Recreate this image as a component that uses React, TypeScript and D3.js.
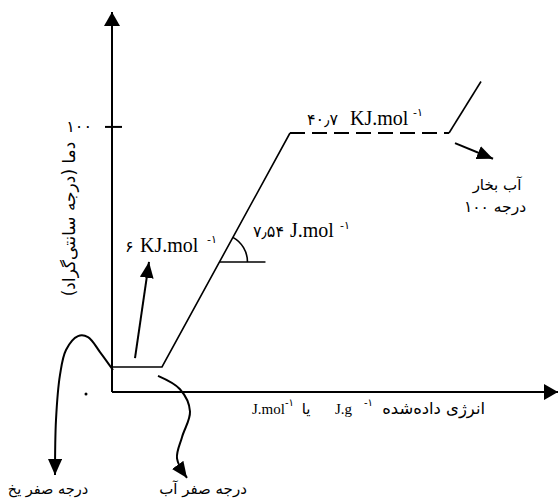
import * as d3 from "d3";

const width = 558;
const height = 499;

// heating curve of water: energy added (arbitrary units) vs temperature (°C)
const energy = [0, 50, 178, 337, 369];
const temperature = [0, 0, 100, 100, 122];
const dashedFrom = 2; // the boiling plateau (point 2 -> 3) is dashed

const energyDomain = [0, 446];
const tempDomain = [-10.7, 151.7];
const yTicks = [102.6];
const yTickLabels = ["۱۰۰"];

// annotation paths, in the same units as the curve
const meltArrow: [number, number][] = [[23, 3.8], [37, 44.9]];
const vaporArrow: [number, number][] = [[343, 95.7], [381, 89]];
const iceCurve: [number, number][] = [
  [1, -1.3], [-12, 6.4], [-24, 12.8], [-34, 13.2], [-46, 7.3], [-52, -3.4], [-56, -22.6], [-57, -46.2],
];
const waterCurve: [number, number][] = [
  [46, -3.8], [68, -9.5], [78, -19], [70, -30], [65, -39], [75, -47.4],
];
const iceDot: [number, number] = [-26, -11.5];
const angleAt = 44.9; // temperature where the slope angle is marked
const angleRun = 46;

const xScale = d3.scaleLinear().domain([0, 446]).range([112, 558]);
const yScale = d3.scaleLinear().domain([0, 100]).range([367, 133]);

const font = "'Liberation Serif', 'DejaVu Sans', serif";
const faFont = "'DejaVu Sans', sans-serif";

export default function App() {
  const px = (e: number) => xScale(e);
  const py = (t: number) => yScale(t);

  const pts = energy.map((e, i) => [px(e), py(temperature[i])] as [number, number]);
  const solid1 = d3.line()(pts.slice(0, dashedFrom + 1));
  const dashed = d3.line()(pts.slice(dashedFrom, dashedFrom + 2));
  const solid2 = d3.line()(pts.slice(dashedFrom + 1));

  const toPx = (arr: [number, number][]) => arr.map(([e, t]) => [px(e), py(t)] as [number, number]);
  const smooth = d3.line().curve(d3.curveCatmullRom.alpha(0.5));

  // angle marker on the liquid-water slope
  const slopeE = energy[1] + ((energy[2] - energy[1]) * (angleAt - temperature[1])) / (temperature[2] - temperature[1]);
  const cx = px(slopeE);
  const cy = py(angleAt);
  const theta = Math.atan2(py(temperature[1]) - py(temperature[2]), px(energy[2]) - px(energy[1]));
  const arc = d3.path();
  arc.arc(cx, cy, 28, -theta, 0);

  const xAxisY = py(tempDomain[0]);
  const x0 = px(energyDomain[0]);

  return (
    <svg
      width={width}
      height={height}
      style={{ position: "absolute", left: 0, top: 0, background: "#fff" }}
    >
      <defs>
        <marker id="head" viewBox="0 0 16 14" refX={16} refY={7} markerWidth={16} markerHeight={14}
          markerUnits="userSpaceOnUse" orient="auto">
          <path d="M0,0L16,7L0,14Z" fill="#000" />
        </marker>
        <marker id="axisHead" viewBox="0 0 14 16" refX={14} refY={8} markerWidth={14} markerHeight={16}
          markerUnits="userSpaceOnUse" orient="auto">
          <path d="M0,0L14,8L0,16Z" fill="#000" />
        </marker>
      </defs>

      {/* axes */}
      <line x1={x0} y1={xAxisY} x2={x0} y2={py(tempDomain[1])} stroke="#000" strokeWidth={2} markerEnd="url(#axisHead)" />
      <line x1={x0} y1={xAxisY} x2={px(energyDomain[1])} y2={xAxisY} stroke="#000" strokeWidth={2} markerEnd="url(#axisHead)" />
      {yTicks.map((t) => (
        <line key={t} x1={x0 - 7} x2={x0 + 10} y1={py(t)} y2={py(t)} stroke="#000" strokeWidth={2} />
      ))}
      {yTicks.map((t, i) => (
        <text key={"l" + t} x={92} y={py(t) + 5} textAnchor="end" fontFamily={faFont} fontSize={16}>
          {yTickLabels[i]}
        </text>
      ))}

      {/* heating curve */}
      <path d={solid1 ?? ""} fill="none" stroke="#000" strokeWidth={1.6} />
      <path d={dashed ?? ""} fill="none" stroke="#000" strokeWidth={2} strokeDasharray="15 7" />
      <path d={solid2 ?? ""} fill="none" stroke="#000" strokeWidth={1.6} />

      {/* angle marker */}
      <line x1={cx} y1={cy} x2={px(slopeE + angleRun)} y2={cy} stroke="#000" strokeWidth={1.6} />
      <path d={arc.toString()} fill="none" stroke="#000" strokeWidth={1.6} />

      {/* annotation arrows */}
      <path d={d3.line()(toPx(meltArrow)) ?? ""} stroke="#000" strokeWidth={2} fill="none" markerEnd="url(#head)" />
      <path d={d3.line()(toPx(vaporArrow)) ?? ""} stroke="#000" strokeWidth={2} fill="none" markerEnd="url(#head)" />
      <path d={smooth(toPx(iceCurve)) ?? ""} stroke="#000" strokeWidth={2} fill="none" markerEnd="url(#head)" />
      <path d={smooth(toPx(waterCurve)) ?? ""} stroke="#000" strokeWidth={2} fill="none" markerEnd="url(#head)" />
      <circle cx={px(iceDot[0])} cy={py(iceDot[1])} r={1.5} fill="#000" />

      {/* labels */}
      <g fontFamily={font} fontSize={20} fill="#000">
        <text x={307} y={125} fontFamily={faFont} fontSize={16}>۴۰٫۷</text>
        <text x={350} y={125}>KJ.mol</text>
        <text x={413} y={116} fontSize={11} fontFamily={faFont}>-۱</text>

        <text x={253} y={237} fontFamily={faFont} fontSize={16}>۷٫۵۴</text>
        <text x={290} y={237}>J.mol</text>
        <text x={340} y={229} fontSize={11} fontFamily={faFont}>-۱</text>

        <text x={125} y={252} fontFamily={faFont} fontSize={16}>۶</text>
        <text x={140} y={252}>KJ.mol</text>
        <text x={207} y={243} fontSize={11} fontFamily={faFont}>-۱</text>
      </g>

      <g fontFamily={faFont} fontSize={15} fill="#000">
        <text x={497} y={190} textAnchor="middle">آب بخار</text>
        <text x={495} y={212} textAnchor="middle" fontSize={15.5}>درجه ۱۰۰</text>
        <text x={48} y={494} textAnchor="middle" fontSize={14.5}>درجه صفر یخ</text>
        <text x={203} y={494} textAnchor="middle">درجه صفر آب</text>
        <text transform="translate(75,219) rotate(-90)" textAnchor="middle" fontSize={17}>
          دما (درجه سانتی‌گراد)
        </text>

        <text x={252} y={414} fontFamily={font} fontSize={15}>J.mol</text>
        <text x={285} y={406} fontSize={10}>-۱</text>
        <text x={306} y={414} textAnchor="middle">یا</text>
        <text x={335} y={414} fontFamily={font} fontSize={15}>J.g</text>
        <text x={364} y={406} fontSize={10}>-۱</text>
        <text x={485} y={414} textAnchor="end" fontSize={16.4}>انرژی داده‌شده</text>
      </g>
    </svg>
  );
}
